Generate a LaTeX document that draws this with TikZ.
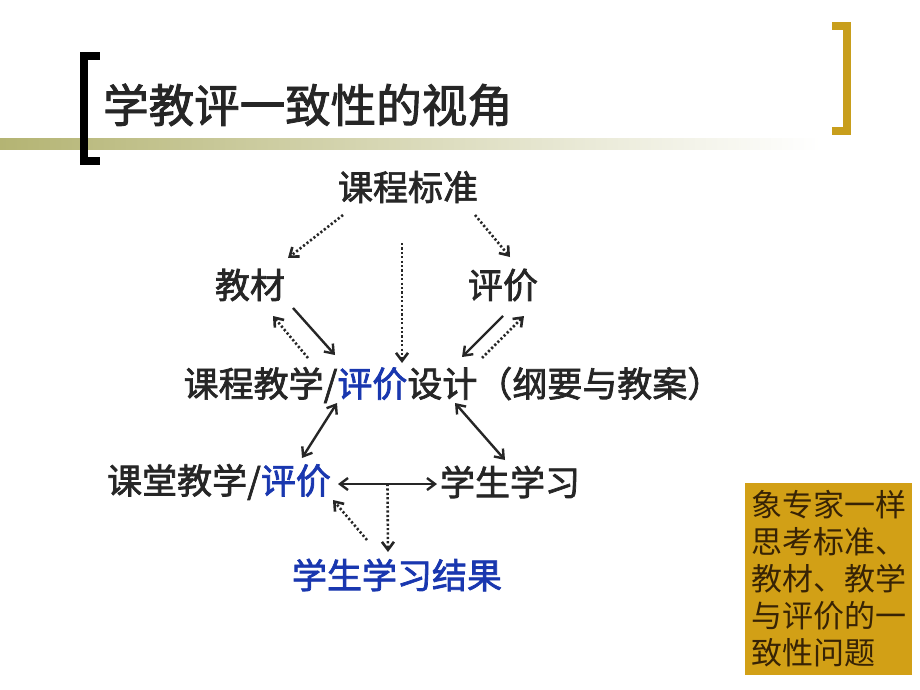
\documentclass[tikz,border=0pt]{standalone}
\usepackage{fontspec}
\setmainfont{Noto Sans CJK SC}[FakeBold=2]
\newfontfamily\notefont{Noto Sans CJK SC}
\usepackage{tikz}
\usetikzlibrary{arrows.meta, positioning, calc}

\definecolor{pjblue}{RGB}{25,55,175}
\definecolor{gold}{RGB}{200,158,28}
\definecolor{boxgold}{RGB}{210,160,22}
\definecolor{band}{RGB}{180,180,115}
\definecolor{boxtext}{RGB}{55,35,5}

\begin{document}
\begin{tikzpicture}[
  x=1pt, y=-1pt,
  every node/.style = {inner sep=0pt, text=black!85},
  term/.style = {font=\fontsize{35}{40}\selectfont},
  solidarr/.style = {line width=2.4pt, black!85, -{Straight Barb[length=8pt,width=12pt]}},
  bothway/.style = {solidarr, {Straight Barb[length=8pt,width=12pt]}-{Straight Barb[length=8pt,width=12pt]}},
  dotarr/.style = {line width=2.6pt, black!85, dash pattern=on 2.2pt off 2.2pt, -{Straight Barb[length=8pt,width=12pt]}}
]
\useasboundingbox (0,0) rectangle (920,690);

% Title bar
\shade[left color=band, right color=white] (0,138) rectangle (820,149);
\fill[black] (80,52) rectangle (88,165);
\fill[black] (80,52) rectangle (100,60);
\fill[black] (80,157) rectangle (100,165);
\fill[gold] (843,22) rectangle (851,135);
\fill[gold] (832,22) rectangle (851,30);
\fill[gold] (832,127) rectangle (851,135);
\node[anchor=west, font=\fontsize{45.5}{50}\selectfont] (title) at (103,105) {学教评一致性的视角};

% Terms
\node[term] (kcbz) at (408,187) {课程标准};
\node[term] (jc) at (250,285) {教材};
\node[term] (pj) at (503,285) {评价};
\node[term] (sj) at (453,385) {课程教学/\textcolor{pjblue}{评价}设计（纲要与教案）};
\node[term] (ktjx) at (219,482) {课堂教学/\textcolor{pjblue}{评价}};
\node[term] (xsxx) at (510,482) {学生学习};
\node[term, text=pjblue] (jg) at (397,575) {学生学习结果};

% Links
\draw[dotarr] ($(kcbz)+(-65,28)$) -- ($(jc)+(38,-27)$);
\draw[dotarr] ($(kcbz)+(-6,56)$) -- ($(sj)+(-51,-22)$);
\draw[dotarr] ($(kcbz)+(67,28)$) -- ($(pj)+(7,-28)$);
\draw[solidarr] ($(jc)+(43,23)$) -- ($(sj)+(-118,-30)$);
\draw[dotarr] ($(sj)+(-145,-27)$) -- ($(jc)+(23,31)$);
\draw[solidarr] ($(pj)+(0,31)$) -- ($(sj)+(9,-28)$);
\draw[dotarr] ($(sj)+(29,-27)$) -- ($(pj)+(21,31)$);
\draw[bothway] ($(sj)+(-116,18)$) -- ($(ktjx)+(83,-24)$);
\draw[bothway] ($(sj)+(2,18)$) -- ($(xsxx)+(-5,-22)$);
\draw[bothway] ($(ktjx)+(119,2)$) -- coordinate[pos=0.5] (hub) ($(xsxx)+(-73,2)$);
\draw[dotarr] (hub) -- ($(jg)+(-9,-23)$);
\draw[dotarr] ($(jg)+(-30,-35)$) -- ($(ktjx)+(114,18)$);

% Note box
\node[fill=boxgold, minimum width=167pt, minimum height=192pt, text=boxtext,
      font=\notefont\fontsize{31}{37}\selectfont, align=left] (note) at (828.5,579)
  {象专家一样\\思考标准、\\教材、教学\\与评价的一\\致性问题};

\end{tikzpicture}
\end{document}
